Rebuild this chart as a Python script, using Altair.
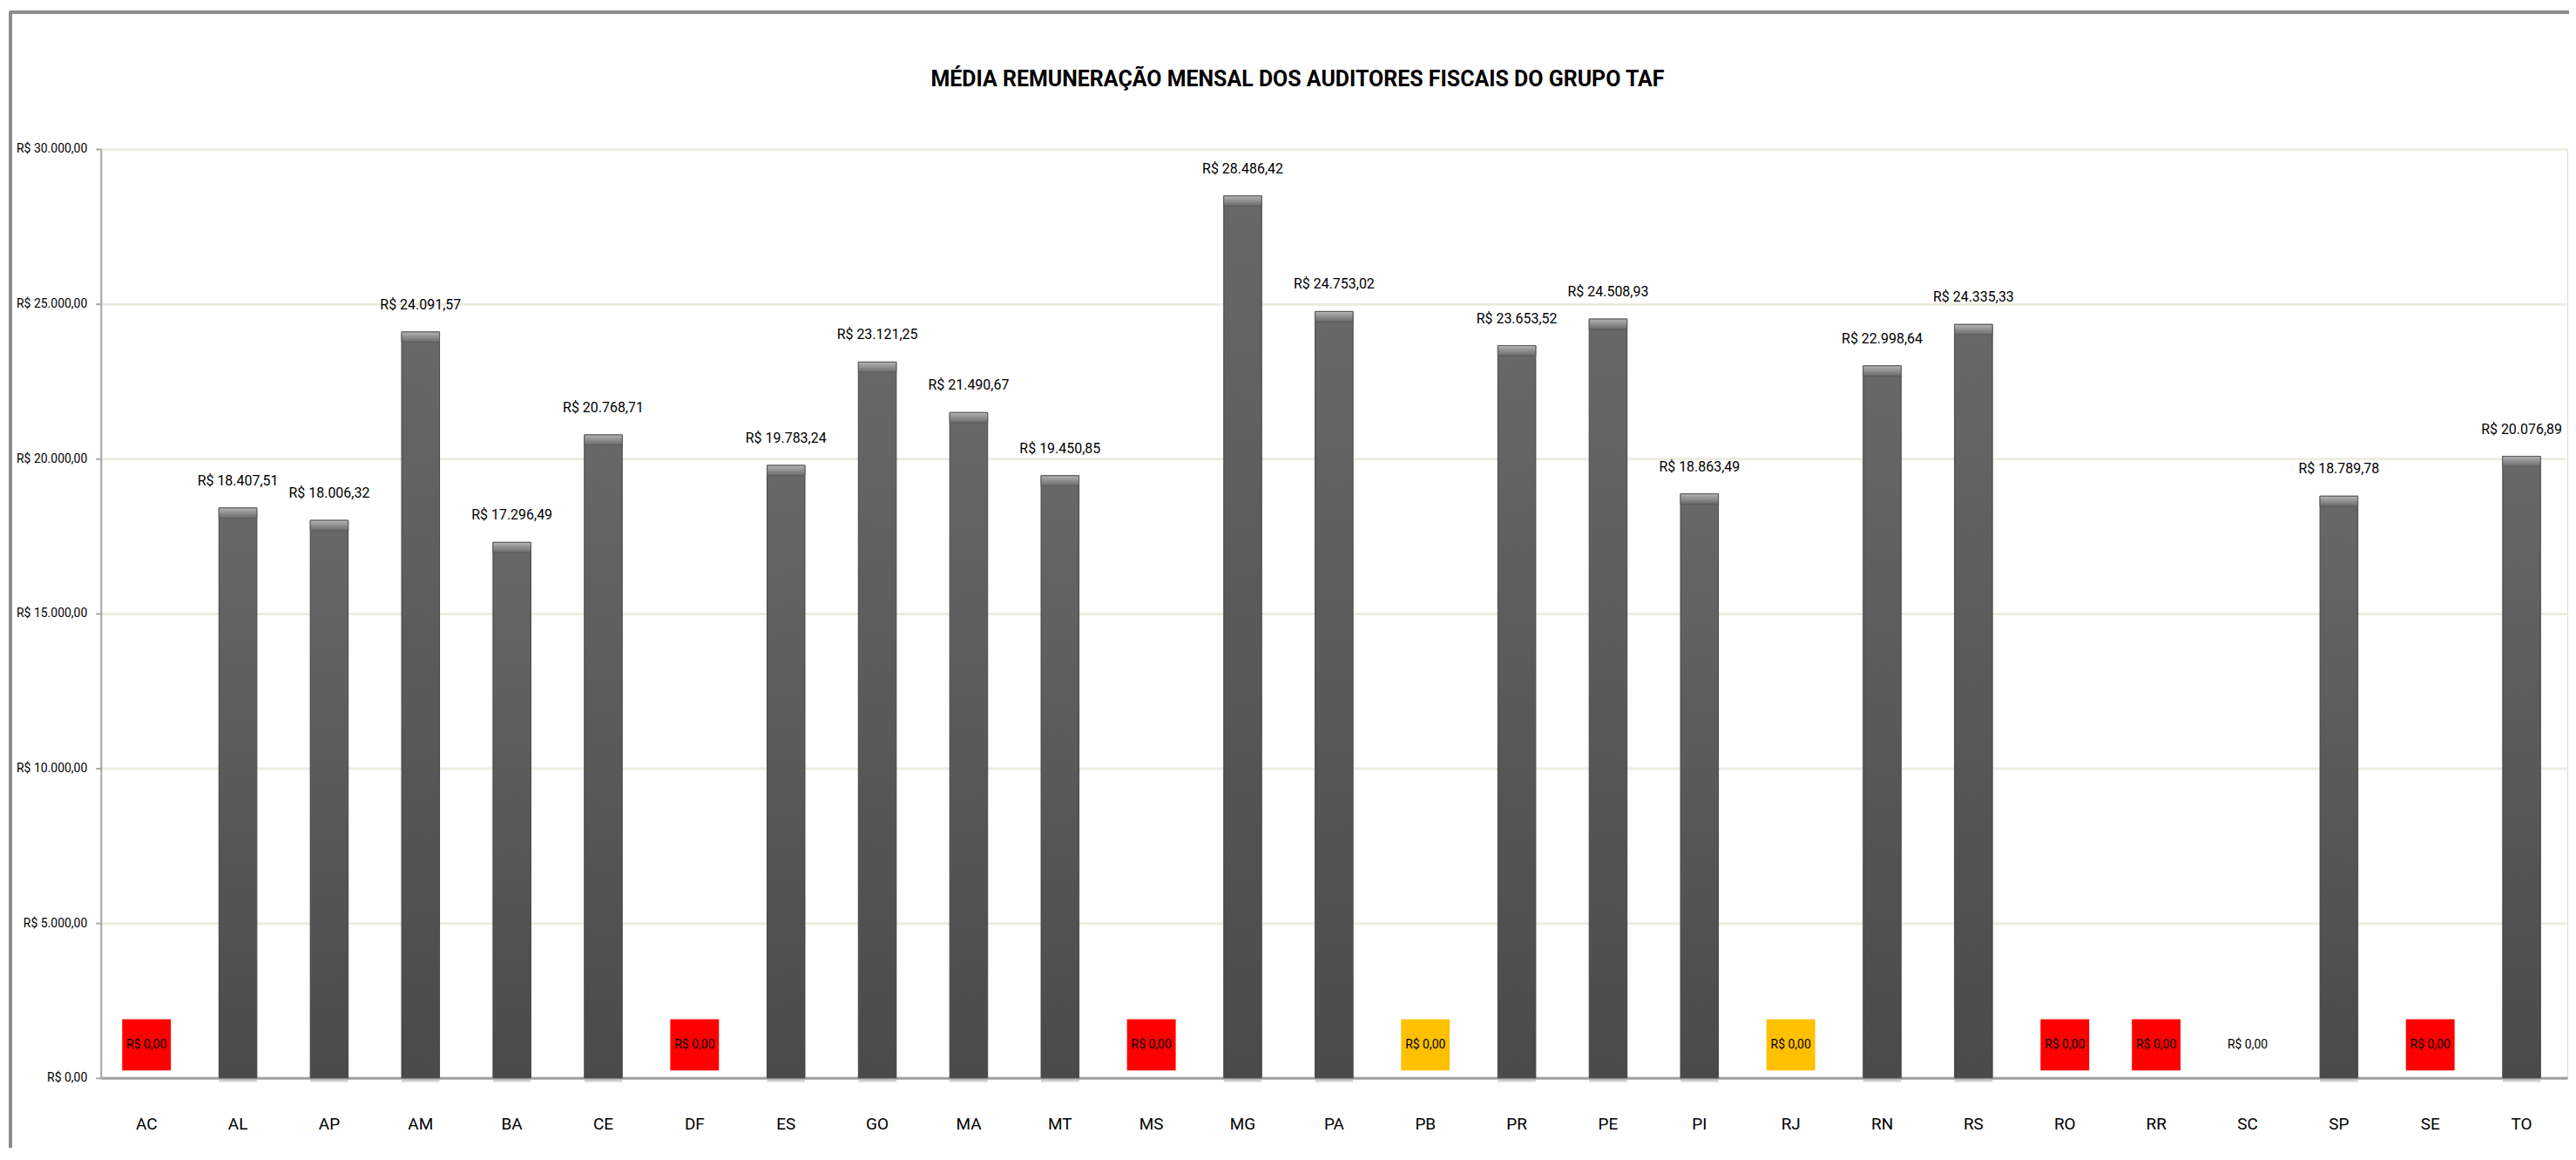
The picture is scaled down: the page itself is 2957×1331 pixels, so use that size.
import altair as alt
import pandas as pd

# ---- data ----
states = ["AC", "AL", "AP", "AM", "BA", "CE", "DF", "ES", "GO", "MA", "MT", "MS", "MG", "PA",
          "PB", "PR", "PE", "PI", "RJ", "RN", "RS", "RO", "RR", "SC", "SP", "SE", "TO"]
values = [0, 18407.51, 18006.32, 24091.57, 17296.49, 20768.71, 0, 19783.24, 23121.25,
          21490.67, 19450.85, 0, 28486.42, 24753.02, 0, 23653.52, 24508.93, 18863.49, 0,
          22998.64, 24335.33, 0, 0, 0, 18789.78, 0, 20076.89]
zero_flags = ["red", "", "", "", "", "", "red", "", "", "", "", "red", "", "", "yellow", "",
              "", "", "yellow", "", "", "red", "red", "none", "", "red", ""]
y_ticks = [0, 5000, 10000, 15000, 20000, 25000, 30000]
title_text = "MÉDIA REMUNERAÇÃO MENSAL DOS AUDITORES FISCAIS DO GRUPO TAF"


def brl(v):
    s = f"{v:,.2f}".replace(",", "#").replace(".", ",").replace("#", ".")
    return "R$ " + s


df = pd.DataFrame({"state": states, "value": values, "flag": zero_flags})
df["label"] = df["value"].map(brl)
df["zero"] = 0.0
df["cap_low"] = df["value"] - 330
df["shadow"] = -170.0

FONT = "Roboto, Liberation Sans, sans-serif"
W, H = 2837, 1068

x_enc = alt.X(
    "state:N", sort=states, title=None,
    scale=alt.Scale(paddingInner=0.585, paddingOuter=0.2925),
    axis=alt.Axis(labelAngle=0, labelFont=FONT, labelFontSize=19, labelColor="#000000",
                  labelPadding=44, ticks=False, domainColor="#A0A0A0", domainWidth=3,
                  grid=False),
)
y_axis = alt.Axis(values=y_ticks, labelFont=FONT, labelFontSize=14, labelColor="#000000",
                  labelExpr="'R$ ' + replace(replace(replace(format(datum.value, ',.2f'), ',', '#'), '.', ','), '#', '.')",
                  labelPadding=10, tickSize=6, tickColor="#A6A6A6", tickWidth=2,
                  domainColor="#A6A6A6", domainWidth=2, gridColor="#EEECE1", gridWidth=3)
y_scale = alt.Scale(domain=[0, 30000], nice=False)


def yq(field):
    return alt.Y(f"{field}:Q", scale=y_scale, axis=y_axis, title=None)


base = alt.Chart(df).encode(x=x_enc)
nonzero = base.transform_filter("datum.value > 0")

shadow = nonzero.mark_bar(
    color=alt.Gradient(gradient="linear", x1=0, x2=0, y1=0, y2=1,
                       stops=[alt.GradientStop(color="#9a9a9a", offset=0),
                              alt.GradientStop(color="#ffffff", offset=1)])
).encode(y=yq("zero"), y2="shadow:Q")

body = nonzero.mark_bar(
    color=alt.Gradient(gradient="linear", x1=0, x2=0, y1=0, y2=1,
                       stops=[alt.GradientStop(color="#686868", offset=0),
                              alt.GradientStop(color="#4a4a4a", offset=1)]),
    stroke="#444444", strokeWidth=1,
).encode(y=yq("value"), y2="zero:Q")

cap = nonzero.mark_bar(
    color=alt.Gradient(gradient="linear", x1=0, x2=0, y1=0, y2=1,
                       stops=[alt.GradientStop(color="#b4b4b4", offset=0),
                              alt.GradientStop(color="#6a6a6a", offset=1)]),
    stroke="#5a5a5a", strokeWidth=1,
).encode(y=yq("value"), y2="cap_low:Q")

labels = nonzero.mark_text(font=FONT, fontSize=16, color="#000000", baseline="alphabetic",
                           dy=-26).encode(y=yq("value"), text="label:N")

boxes = base.transform_filter("datum.value == 0 && datum.flag != 'none'").mark_point(
    shape="M-1,-1.054L1,-1.054L1,1.054L-1,1.054Z", filled=True, size=3136, opacity=1,
    strokeWidth=0, yOffset=-38,
).encode(
    y=yq("value"),
    color=alt.Color("flag:N", scale=alt.Scale(domain=["red", "yellow"],
                                              range=["#FF0000", "#FFC000"]), legend=None),
)

zero_labels = base.transform_filter("datum.value == 0").mark_text(
    font=FONT, fontSize=14, color="#000000", baseline="middle", dy=-38
).encode(y=yq("value"), text="label:N")

frame_left = alt.Chart(df).mark_rule(color="#8c8c8c", strokeWidth=3).encode(
    x=alt.value(-104), y=alt.value(-157), y2=alt.value(H + 100))
frame_top = alt.Chart(df).mark_rule(color="#8c8c8c", strokeWidth=3).encode(
    x=alt.value(-105), x2=alt.value(W + 10), y=alt.value(-157))

chart = alt.layer(shadow, body, cap, labels, boxes, zero_labels, frame_left, frame_top).properties(
    width=W, height=H,
    title=alt.TitleParams(title_text, font=FONT, fontSize=25, fontWeight="bold",
                          color="#000000", anchor="middle", dx=-42, offset=0, dy=91),
    autosize=alt.AutoSizeParams(type="none"),
    padding={"left": 108, "top": 162, "right": 2, "bottom": 79},
).configure_view(stroke=None).configure(background="#ffffff")

chart.save("out.html", embed_options={"renderer": "svg", "actions": False})
